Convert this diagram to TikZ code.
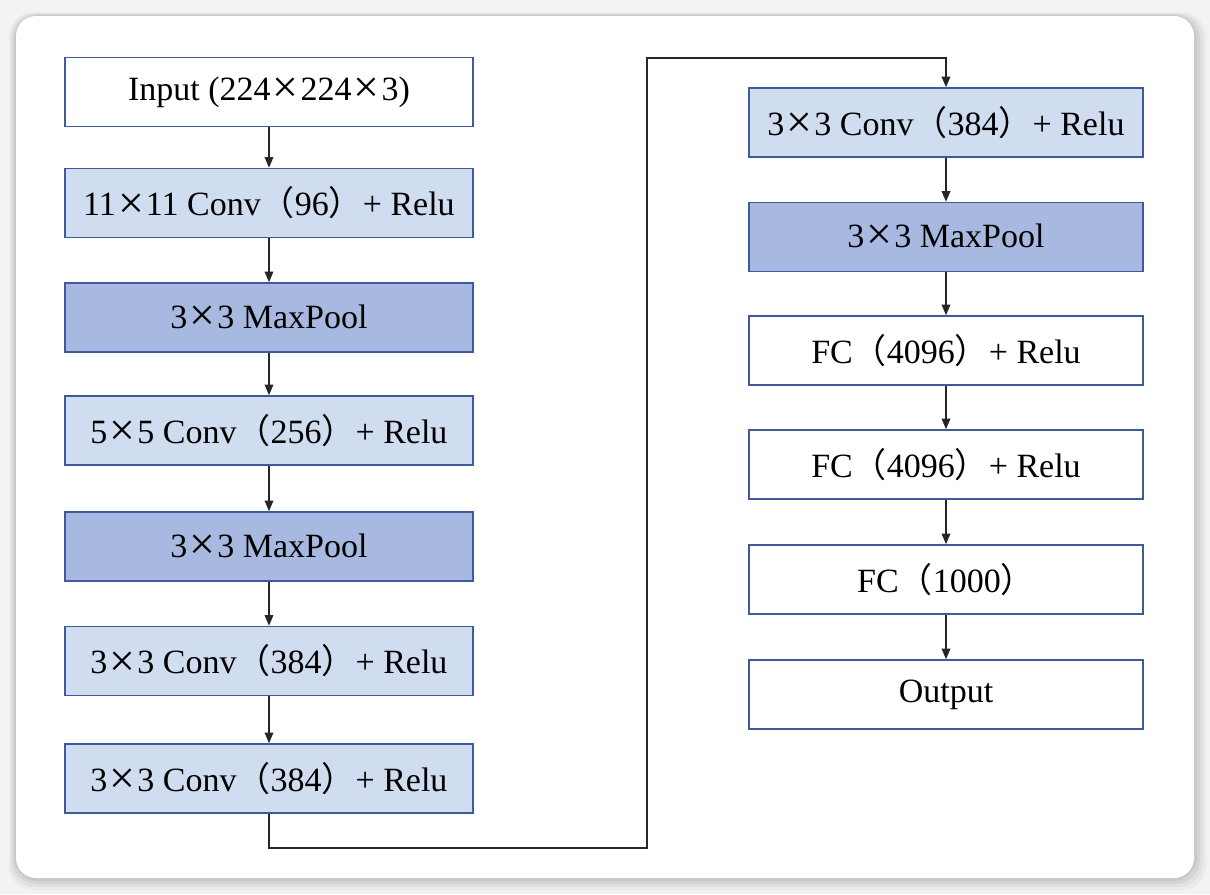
\documentclass[tikz,border=0pt]{standalone}
\usepackage{fontspec}
\setmainfont{Liberation Serif}
\newfontfamily\cjk{Noto Sans CJK SC}
\usetikzlibrary{arrows.meta,positioning}
\definecolor{bordc}{HTML}{3F5A9A}
\definecolor{lightc}{HTML}{D0DCF0}
\definecolor{darkc}{HTML}{A7B9E0}
\definecolor{bgc}{HTML}{F3F3F3}
\newcommand{\X}{\hspace{0.06em}\raisebox{-0.07em}{\scalebox{1.35}{×}}\hspace{0.06em}}
\newcommand{\LP}{{\cjk （}}
\newcommand{\RP}{{\cjk ）}}
\tikzset{
  blk/.style={draw=bordc, line width=1.2pt, minimum height=51.75pt, inner sep=0pt, font=\fontsize{25.5}{28}\selectfont},
  lblk/.style={blk, minimum width=306pt},
  rblk/.style={blk, minimum width=295.5pt},
  wfill/.style={fill=white},
  lfill/.style={fill=lightc},
  dfill/.style={fill=darkc},
  conn/.style={draw=black!85, line width=1.1pt},
  arr/.style={conn, -{Triangle[length=8pt,width=6.5pt]}}
}
\begin{document}
\begin{tikzpicture}[x=0.75pt,y=-0.75pt]
\useasboundingbox (0,0) rectangle (1210,894);
\fill[bgc] (0,0) rectangle (1210,894);
% shadow
\foreach \d/\o in {12/0.03,9/0.04,6/0.05,3/0.06}{
  \fill[black,opacity=\o,rounded corners=18pt] (16-\d*0.6,16-\d*0.3) rectangle (1194+\d,878+\d);
}
\fill[white,rounded corners=15pt] (16,16) rectangle (1194,878);
% left column
\node[lblk,wfill] (l1) at (269,92) {Input (224\X224\X3)};
\node[lblk,lfill] (l2) at (269,203) {11\X11 Conv\LP96\RP+ Relu};
\node[lblk,dfill] (l3) at (269,317.5) {3\X3 MaxPool};
\node[lblk,lfill] (l4) at (269,430.5) {5\X5 Conv\LP256\RP+ Relu};
\node[lblk,dfill] (l5) at (269,546.5) {3\X3 MaxPool};
\node[lblk,lfill] (l6) at (269,661) {3\X3 Conv\LP384\RP+ Relu};
\node[lblk,lfill] (l7) at (269,778.5) {3\X3 Conv\LP384\RP+ Relu};
% right column
\node[rblk,lfill] (r1) at (946,122.5) {3\X3 Conv\LP384\RP+ Relu};
\node[rblk,dfill] (r2) at (946,237) {3\X3 MaxPool};
\node[rblk,wfill] (r3) at (946,350.5) {FC\LP4096\RP+ Relu};
\node[rblk,wfill] (r4) at (946,464.5) {FC\LP4096\RP+ Relu};
\node[rblk,wfill] (r5) at (946,579.5) {FC\LP1000\RP};
\node[rblk,wfill] (r6) at (946,694.5) {Output};
% connectors
\foreach \a/\b in {l1/l2,l2/l3,l3/l4,l4/l5,l5/l6,l6/l7,r1/r2,r2/r3,r3/r4,r4/r5,r5/r6}{
  \draw[arr] (\a.south) -- (\b.north);
}
\coordinate (c1) at (647,848);
\coordinate (c2) at (647,58);
\draw[arr] (l7.south) |- (c1) -- (c2) -| (r1.north);
\end{tikzpicture}
\end{document}
